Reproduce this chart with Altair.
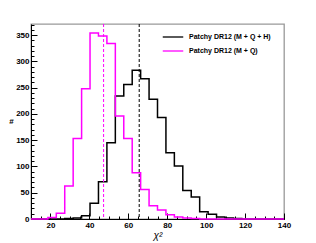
import altair as alt
import numpy as np
import pandas as pd

# ---- data ----
x_min, x_max, n_bins = 10, 140, 30
bin_edges = np.linspace(x_min, x_max, n_bins + 1)

series_names = ["Patchy DR12 (M + Q + H)", "Patchy DR12 (M + Q)"]
series_colors = ["#000000", "#ff00ff"]

counts_mqh = [0, 0, 0, 0, 1, 2, 6, 30, 71, 145, 234, 256, 283, 267, 228,
              193, 126, 101, 54, 42, 14, 9, 4, 2, 1, 0, 0, 0, 0, 0]
counts_mq = [0, 0, 3, 11, 63, 153, 248, 354, 348, 334, 196, 153, 88, 56, 25,
             17, 8, 4, 2, 1, 0, 0, 0, 0, 0, 0, 0, 0, 0, 0]

chi2_marker = [65.6, 47.3]  # dashed vertical lines (black, magenta)

x_labels = [20, 40, 60, 80, 100, 120, 140]
x_minor = list(range(10, 141, 5))
y_labels = [0, 50, 100, 150, 200, 250, 300, 350]
y_minor = list(range(0, 371, 10))
y_top = 371

# ---- tables ----
rows = []
for name, counts in zip(series_names, [counts_mqh, counts_mq]):
    for i, c in enumerate(counts):
        rows.append({"chi2": float(bin_edges[i]), "n": c, "series": name, "order": i})
    rows.append({"chi2": float(bin_edges[-1]), "n": counts[-1], "series": name, "order": n_bins})
hist = pd.DataFrame(rows)
marks_df = pd.DataFrame({"chi2": chi2_marker, "series": series_names})

FONT = "Liberation Sans"
xs = alt.Scale(domain=[x_min, x_max], nice=False, zero=False)
ys = alt.Scale(domain=[0, y_top], nice=False, zero=False)
cscale = alt.Scale(domain=series_names, range=series_colors)

main_x_axis = alt.Axis(values=x_labels, ticks=False, tickSize=0, labelPadding=2, grid=False,
                       labelFont=FONT, labelFontSize=8, labelFontWeight="bold", labelColor="black",
                       labelFlush=False, labelOverlap=False, domainColor="black", domainWidth=1,
                       title="χ²", titleFont=FONT, titleFontSize=10, titleFontStyle="italic",
                       titleFontWeight="normal", titleColor="black", titlePadding=1, orient="bottom")
main_y_axis = alt.Axis(values=y_labels, ticks=False, tickSize=0, labelPadding=2, grid=False,
                       labelFont=FONT, labelFontSize=8, labelFontWeight="bold", labelColor="black",
                       labelFlush=False, labelOverlap=False, domainColor="black", domainWidth=1,
                       title="#", titleFont=FONT, titleFontSize=8, titleFontWeight="bold",
                       titleColor="black", titleAngle=0, titleX=-20, titleY=97,
                       titleAlign="center", titleBaseline="middle", orient="left")

legend = alt.Legend(orient="none", legendX=131, legendY=2, title=None, symbolType="stroke",
                    symbolSize=420, symbolStrokeWidth=1.3, labelFont=FONT, labelFontSize=7,
                    labelFontWeight="bold", labelColor="black", labelOffset=5, rowPadding=-6,
                    padding=0)

hist_layer = alt.Chart(hist).mark_line(interpolate="step-after", strokeWidth=1.5).encode(
    x=alt.X("chi2:Q", scale=xs, axis=main_x_axis),
    y=alt.Y("n:Q", scale=ys, axis=main_y_axis),
    color=alt.Color("series:N", scale=cscale, legend=legend),
    order="order:Q",
)

rule_layer = alt.Chart(marks_df).mark_rule(strokeDash=[3, 2], strokeWidth=1).encode(
    x=alt.X("chi2:Q", scale=xs, axis=None),
    color=alt.Color("series:N", scale=cscale, legend=None),
)


def tick_layer(xv, yv, size):
    return alt.Chart(hist).mark_point(opacity=0).encode(
        x=alt.X("chi2:Q", scale=xs, axis=alt.Axis(values=xv, tickSize=size, offset=-size, labels=False,
                                                  domain=False, grid=False, title=None, orient="bottom",
                                                  tickColor="black", tickWidth=1)),
        y=alt.Y("n:Q", scale=ys, axis=alt.Axis(values=yv, tickSize=size, offset=-size, labels=False,
                                               domain=False, grid=False, title=None, orient="left",
                                               tickColor="black", tickWidth=1)),
    )


chart = alt.layer(
    tick_layer(x_minor, y_minor, 3),
    tick_layer(x_labels, y_labels, 6),
    hist_layer,
    rule_layer,
).resolve_axis(x="independent", y="independent").properties(
    width=253, height=195,
    autosize=alt.AutoSizeParams(type="none"),
    padding={"left": 23, "top": 16, "right": 8, "bottom": 24},
).configure_view(stroke="#999999", strokeWidth=1.3)

chart.save("out.html", embed_options={"renderer": "svg", "actions": False})
